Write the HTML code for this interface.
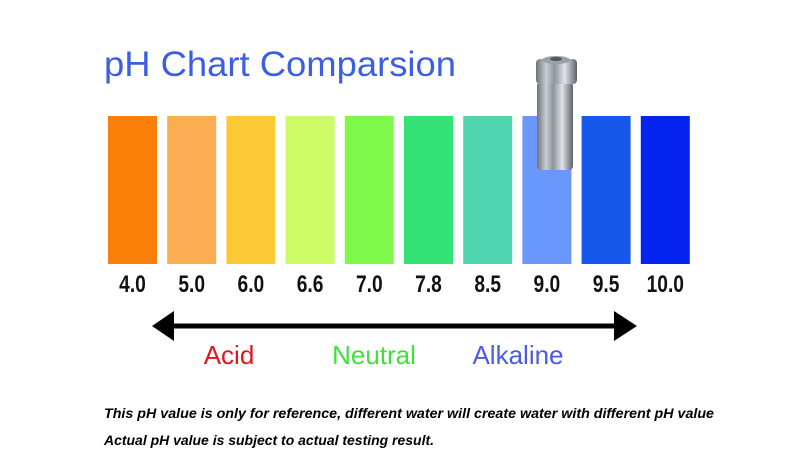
<!DOCTYPE html>
<html><head><meta charset="utf-8"><style>
html,body{margin:0;padding:0;background:#fff;}
svg{display:block;font-family:"Liberation Sans",sans-serif;}
</style></head><body>
<svg width="800" height="467" viewBox="0 0 800 467">
  <defs>
    <linearGradient id="metal" x1="0" x2="1" y1="0" y2="0">
      <stop offset="0" stop-color="#6c7278"/>
      <stop offset="0.25" stop-color="#c9ced3"/>
      <stop offset="0.45" stop-color="#8d949b"/>
      <stop offset="0.7" stop-color="#dfe3e6"/>
      <stop offset="1" stop-color="#5d6369"/>
    </linearGradient>
  </defs>
  <text x="104" y="76" font-size="35" fill="#3b5fe3" textLength="352" lengthAdjust="spacingAndGlyphs">pH Chart Comparsion</text>
  <g id="bars"></g>
  <g id="labels"></g>
  <g>
    <rect x="537" y="82" width="36" height="88" rx="4" fill="url(#metal)"/>
    <rect x="536" y="59" width="41" height="25" rx="4" fill="url(#metal)"/>
    <ellipse cx="556" cy="60" rx="14" ry="4" fill="#9aa0a6"/>
    <ellipse cx="556" cy="59" rx="6" ry="2" fill="#50565c"/>
  </g>
  <g>
    <line x1="170" y1="326" x2="616" y2="326" stroke="#000" stroke-width="5"/>
    <polygon points="152,326 174,311 174,341" fill="#000"/>
    <polygon points="637,326 614,311 614,341" fill="#000"/>
  </g>
  <text x="229" y="364" font-size="26" fill="#e8141c" text-anchor="middle">Acid</text>
  <text x="374" y="364" font-size="26" fill="#3fe13a" text-anchor="middle">Neutral</text>
  <text x="518" y="364" font-size="26" fill="#4a5be8" text-anchor="middle">Alkaline</text>
  <text x="104" y="418" font-size="14" font-weight="bold" font-style="italic" fill="#000" textLength="610" lengthAdjust="spacingAndGlyphs">This pH value is only for reference, different water will create water with different pH value</text>
  <text x="104" y="445" font-size="14" font-weight="bold" font-style="italic" fill="#000" textLength="330" lengthAdjust="spacingAndGlyphs">Actual pH value is subject to actual testing result.</text>
</svg>
<script>
const phLabels = ["4.0","5.0","6.0","6.6","7.0","7.8","8.5","9.0","9.5","10.0"];
const barColors = ["#fb7f09","#fbad52","#fdc935","#cdfb65","#7ef94a","#35e275","#4fd5ae","#6a97fb","#1658ec","#0624f0"];
const x0 = 108, step = 59.2, barW = 49, barTop = 116, barBottom = 264;
function xPos(i){ return x0 + i*step; }
const ns = "http://www.w3.org/2000/svg";
const bars = document.getElementById('bars');
const labels = document.getElementById('labels');
phLabels.forEach((lab,i)=>{
  const r = document.createElementNS(ns,'rect');
  r.setAttribute('x', xPos(i)); r.setAttribute('y', barTop);
  r.setAttribute('width', barW); r.setAttribute('height', barBottom-barTop);
  r.setAttribute('fill', barColors[i]);
  
  
  bars.appendChild(r);
  const cx = xPos(i)+barW/2;
  const t = document.createElementNS(ns,'text');
  t.setAttribute('x', cx); t.setAttribute('y', 292);
  t.setAttribute('text-anchor','middle'); t.setAttribute('font-size','24');
  t.setAttribute('font-weight','bold'); t.setAttribute('fill','#111');
  t.setAttribute('transform','translate('+cx+',0) scale(0.8,1) translate('+(-cx)+',0)');
  t.textContent = lab;
  
  
  labels.appendChild(t);
});
</script>
</body></html>
